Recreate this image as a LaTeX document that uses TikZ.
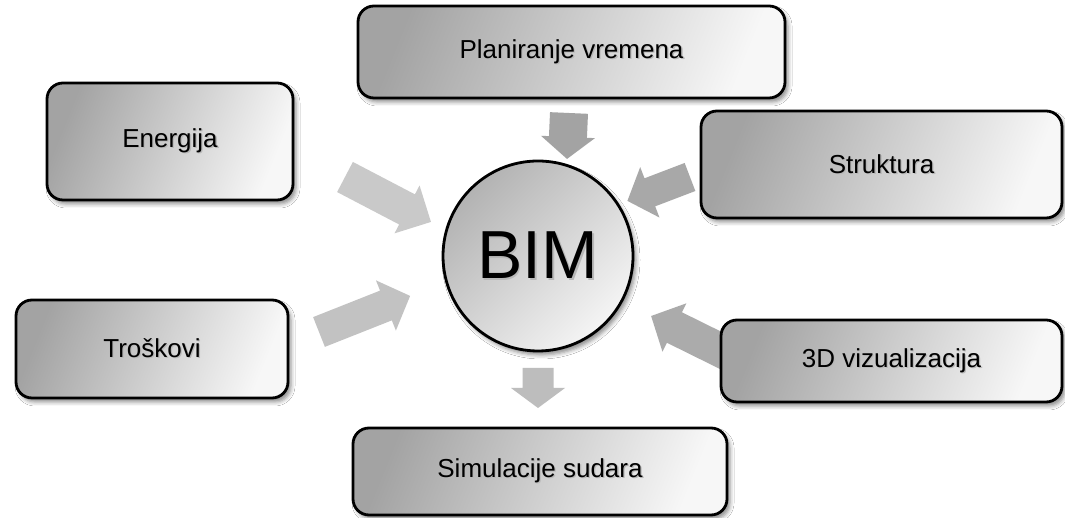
\documentclass[tikz,border=0pt]{standalone}
\usepackage{fontspec}
\setmainfont{Liberation Sans}
\usetikzlibrary{shadows.blur}
\newcommand\blkarr[6]{% tail, angle, length, headlen, halfwidth, color
  \fill[#6, shift={(#1)}, rotate=#2] (0,-#5) -- ({#3-#4},-#5) -- ({#3-#4},-27) -- (#3,0) -- ({#3-#4},27) -- ({#3-#4},#5) -- (0,#5) -- cycle;}
\newcommand\tshad[1]{\makebox[0pt][l]{\hspace{1.3pt}\raisebox{-1.3pt}{\textcolor{black!28}{#1}}}#1}
\begin{document}
\begin{tikzpicture}[x=1pt,y=1pt,
  box/.style={draw=black, line width=2.8pt, rounded corners=16pt,
    top color=black!36, bottom color=black!3, shading angle=68,
    blur shadow={shadow xshift=3pt, shadow yshift=-4pt, shadow blur radius=4pt, shadow opacity=45},
    inner sep=0pt, font=\fontsize{26}{30}\selectfont},
  hub/.style={circle, draw=black, line width=2.8pt,
    top color=black!30, bottom color=black!4, shading angle=45,
    blur shadow={shadow xshift=3pt, shadow yshift=-4pt, shadow blur radius=4pt, shadow opacity=45},
    minimum size=190pt, inner sep=0pt, font=\fontsize{68}{72}\selectfont}
]
\useasboundingbox (0,0) rectangle (1065,518);
\fill[white] (0,0) rectangle (1065,518);
% arrow tails
\coordinate (aE) at (345,341);
\coordinate (aP) at (569,405);
\coordinate (aS) at (690,341);
\coordinate (aT) at (319,186);
\coordinate (aD) at (730,163);
\coordinate (aSim) at (538,150);
\definecolor{arrA}{HTML}{C9C9C9}
\definecolor{arrB}{HTML}{A3A3A3}
\definecolor{arrC}{HTML}{A8A8A8}
\definecolor{arrD}{HTML}{C2C2C2}
\definecolor{arrE}{HTML}{ABABAB}
\definecolor{arrF}{HTML}{BDBDBD}
\blkarr{aE}{-27.6}{97}{27}{17}{arrA}
\blkarr{aP}{-92.5}{46}{22}{19}{arrB}
\blkarr{aS}{200.9}{67}{24}{15}{arrC}
\blkarr{aT}{21.6}{98}{26}{16}{arrD}
\blkarr{aD}{153.7}{88}{26}{17}{arrE}
\blkarr{aSim}{-90}{40}{20}{15.5}{arrF}
% nodes
\node[hub] (bim) at (538,262) {\tshad{BIM}};
\node[box, minimum width=246pt, minimum height=117pt] (ene) at (170,376.5) {\tshad{Energija}};
\node[box, minimum width=427pt, minimum height=92pt] (plan) at (571.5,466) {\tshad{Planiranje vremena}};
\node[box, minimum width=361pt, minimum height=107pt] (str) at (881.5,353.5) {\tshad{Struktura}};
\node[box, minimum width=272pt, minimum height=98pt] (tro) at (152,169) {\tshad{Troškovi}};
\node[box, minimum width=374pt, minimum height=87pt] (sim) at (540,46.5) {\tshad{Simulacije sudara}};
\node[box, minimum width=341pt, minimum height=82pt] (viz) at (891.5,157) {\tshad{3D vizualizacija}};
\end{tikzpicture}
\end{document}
